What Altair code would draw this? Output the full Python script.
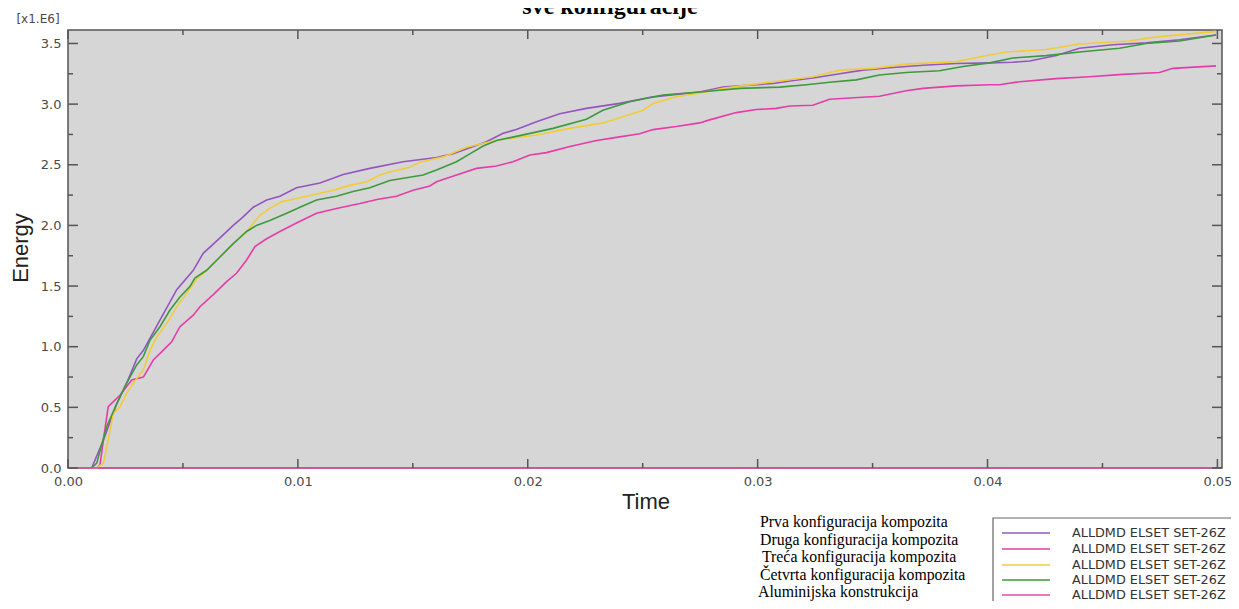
import altair as alt
import pandas as pd

# ---- data (energy in units of 1e6) ----
series_names = ["Prva konfiguracija kompozita", "Druga konfiguracija kompozita",
                "Treća konfiguracija kompozita", "Četvrta konfiguracija kompozita",
                "Aluminijska konstrukcija"]
legend_labels = ["ALLDMD ELSET SET-26Z"] * 5
colors = ["#9455c0", "#e53ca8", "#f0cd38", "#3d9a3d", "#e24eae"]

t_prva = [0, 0.00103, 0.00154, 0.0021, 0.0026, 0.00299, 0.00328, 0.004, 0.00473, 0.00545, 0.00588,
          0.00646, 0.00719, 0.00762, 0.00806, 0.00864, 0.00922, 0.00994, 0.01096, 0.01197, 0.01313,
          0.01458, 0.01603, 0.01675, 0.01748, 0.0182, 0.01893, 0.0195, 0.02038, 0.02139, 0.02255,
          0.024, 0.02545, 0.02748, 0.0285, 0.03067, 0.0314, 0.03255, 0.03357, 0.03458, 0.03574,
          0.03719, 0.03864, 0.04009, 0.0411, 0.04183, 0.04299, 0.044, 0.04545, 0.0469, 0.04835, 0.04994]
e_prva = [0, 0, 0.23, 0.52, 0.72, 0.90, 0.97, 1.22, 1.47, 1.63, 1.77,
          1.87, 2.00, 2.07, 2.15, 2.21, 2.24, 2.31, 2.35, 2.42, 2.47,
          2.525, 2.56, 2.59, 2.64, 2.69, 2.76, 2.79, 2.855, 2.92, 2.965,
          3.006, 3.06, 3.10, 3.14, 3.17, 3.19, 3.22, 3.25, 3.28, 3.30,
          3.32, 3.335, 3.34, 3.345, 3.355, 3.40, 3.46, 3.49, 3.505, 3.53, 3.57]

t_druga = [0, 0.00125, 0.00139, 0.00154, 0.00175, 0.00226, 0.00277, 0.00328, 0.00371, 0.00414,
           0.00451, 0.00487, 0.00545, 0.00574, 0.00632, 0.0069, 0.00733, 0.00777, 0.00813, 0.00864,
           0.00922, 0.00994, 0.01081, 0.01168, 0.0127, 0.01349, 0.01429, 0.01501, 0.01574, 0.01603,
           0.0169, 0.01777, 0.01864, 0.01936, 0.02009, 0.02081, 0.02183, 0.02299, 0.024, 0.02487,
           0.02545, 0.02646, 0.02748, 0.02791, 0.02907, 0.02994, 0.03081, 0.0314, 0.0324, 0.03313,
           0.034, 0.0353, 0.03646, 0.03719, 0.03864, 0.04009, 0.04052, 0.04139, 0.04299, 0.04443,
           0.04588, 0.04748, 0.04806, 0.04994]
e_druga = [0, 0, 0.025, 0.23, 0.505, 0.60, 0.725, 0.75, 0.89, 0.97,
           1.04, 1.165, 1.26, 1.33, 1.43, 1.536, 1.605, 1.715, 1.825, 1.89,
           1.95, 2.02, 2.10, 2.14, 2.18, 2.215, 2.24, 2.29, 2.325, 2.36,
           2.415, 2.47, 2.49, 2.525, 2.58, 2.60, 2.65, 2.70, 2.73, 2.755,
           2.79, 2.815, 2.845, 2.87, 2.93, 2.955, 2.965, 2.985, 2.99, 3.04,
           3.05, 3.065, 3.11, 3.13, 3.15, 3.16, 3.16, 3.185, 3.21, 3.225,
           3.245, 3.26, 3.295, 3.315]

t_treca = [0, 0.00125, 0.00154, 0.00175, 0.00197, 0.00226, 0.00255, 0.00284, 0.00328, 0.00357,
           0.00386, 0.00429, 0.00473, 0.00516, 0.0056, 0.00603, 0.00661, 0.00719, 0.00777, 0.00835,
           0.00878, 0.00929, 0.01038, 0.01154, 0.01226, 0.01299, 0.01357, 0.014, 0.01487, 0.0153,
           0.01632, 0.01733, 0.01835, 0.01893, 0.02038, 0.02183, 0.02327, 0.02414, 0.02501, 0.02545,
           0.02646, 0.02748, 0.02849, 0.03067, 0.0324, 0.03357, 0.03501, 0.03646, 0.03864, 0.04009,
           0.04081, 0.04255, 0.044, 0.04617, 0.04719, 0.04994]
e_treca = [0, 0, 0.04, 0.23, 0.45, 0.505, 0.615, 0.70, 0.81, 0.97,
           1.08, 1.19, 1.33, 1.44, 1.56, 1.63, 1.74, 1.85, 1.95, 2.085,
           2.14, 2.195, 2.24, 2.29, 2.33, 2.36, 2.415, 2.44, 2.48, 2.52,
           2.565, 2.645, 2.69, 2.71, 2.745, 2.80, 2.845, 2.895, 2.95, 3.005,
           3.06, 3.09, 3.13, 3.185, 3.225, 3.28, 3.295, 3.33, 3.35, 3.405,
           3.43, 3.45, 3.495, 3.52, 3.55, 3.60]

t_cetvrta = [0, 0.00103, 0.00125, 0.00168, 0.00212, 0.00255, 0.00299, 0.00328, 0.00357, 0.004,
             0.00443, 0.00487, 0.0053, 0.00552, 0.00603, 0.00661, 0.00719, 0.00777, 0.0082, 0.00878,
             0.00951, 0.01009, 0.01081, 0.01168, 0.0124, 0.01313, 0.014, 0.01545, 0.01603, 0.0169,
             0.01748, 0.01806, 0.01864, 0.01965, 0.0211, 0.02255, 0.02327, 0.02443, 0.02588, 0.02748,
             0.02922, 0.03096, 0.03212, 0.03313, 0.03429, 0.0353, 0.03646, 0.03791, 0.03893, 0.04009,
             0.0411, 0.04255, 0.044, 0.04574, 0.0469, 0.04835, 0.04994]
e_cetvrta = [0, 0, 0.04, 0.34, 0.53, 0.70, 0.85, 0.92, 1.055, 1.165,
             1.30, 1.41, 1.495, 1.565, 1.63, 1.74, 1.85, 1.95, 2.00, 2.04,
             2.10, 2.15, 2.21, 2.24, 2.28, 2.31, 2.37, 2.415, 2.457, 2.525,
             2.59, 2.655, 2.70, 2.74, 2.80, 2.875, 2.95, 3.02, 3.075, 3.10,
             3.13, 3.14, 3.16, 3.18, 3.20, 3.24, 3.26, 3.275, 3.31, 3.34,
             3.38, 3.40, 3.43, 3.46, 3.50, 3.52, 3.57]

t_alu = [0, 0.05]
e_alu = [0, 0]

x_major = [0.0, 0.01, 0.02, 0.03, 0.04, 0.05]
x_minor = [0.005, 0.015, 0.025, 0.035, 0.045]
y_major = [0.0, 0.5, 1.0, 1.5, 2.0, 2.5, 3.0, 3.5]
y_minor = [0.25, 0.75, 1.25, 1.75, 2.25, 2.75, 3.25]

# ---- build table ----
ts = [t_prva, t_druga, t_treca, t_cetvrta, t_alu]
es = [e_prva, e_druga, e_treca, e_cetvrta, e_alu]
rows = []
for name, tt, ee in zip(series_names, ts, es):
    for i, (a, b) in enumerate(zip(tt, ee)):
        rows.append({"series": name, "t": a, "E": b, "i": i})
df = pd.DataFrame(rows)

W, H = 1154, 438
XDOM = [0, 0.0502]
YDOM = [0, 3.611]
AXC = "#555555"
LBL = "#4a4a4a"

xs = alt.Scale(domain=XDOM, nice=False, zero=False)
ys = alt.Scale(domain=YDOM, nice=False, zero=False)
x_axis = alt.Axis(values=x_major, format=".2f", ticks=False, domain=False, grid=False, title=None,
                  labelFont="DejaVu Sans", labelFontSize=13, labelColor=LBL, labelPadding=7,
                  labelFlush=False)
y_axis = alt.Axis(values=y_major, format=".1f", ticks=False, domain=False, grid=False, title=None,
                  labelFont="DejaVu Sans", labelFontSize=13, labelColor=LBL, labelPadding=7,
                  labelFlush=False)

frame = alt.Chart(alt.Data(values=[{"a": 1}])).mark_rect(
    fill="#d6d6d6", stroke=AXC, strokeWidth=1.5
).encode(x=alt.value(0), x2=alt.value(W), y=alt.value(0), y2=alt.value(H))

lines = alt.Chart(df).mark_line(strokeWidth=1.6).encode(
    x=alt.X("t:Q", scale=xs, axis=x_axis),
    y=alt.Y("E:Q", scale=ys, axis=y_axis),
    color=alt.Color("series:N", scale=alt.Scale(domain=series_names, range=colors), legend=None),
    order="i:Q",
)

def xticks(vals, y0, y1):
    d = pd.DataFrame({"t": vals})
    return alt.Chart(d).mark_rule(color=AXC, strokeWidth=1.5).encode(
        x=alt.X("t:Q", scale=xs, axis=x_axis), y=alt.value(y0), y2=alt.value(y1))

def yticks(vals, x0, x1):
    d = pd.DataFrame({"E": vals})
    return alt.Chart(d).mark_rule(color=AXC, strokeWidth=1.5).encode(
        y=alt.Y("E:Q", scale=ys, axis=y_axis), x=alt.value(x0), x2=alt.value(x1))

ticks = [
    xticks(x_major, H, H - 9), xticks(x_major, 0, 9),
    xticks(x_minor, H, H - 5), xticks(x_minor, 0, 5),
    yticks(y_major, 0, 10), yticks(y_major, W, W - 10),
    yticks(y_minor, 0, 5), yticks(y_minor, W, W - 5),
]

def txt(s, x, y, **kw):
    return alt.Chart(alt.Data(values=[{"a": 1}])).mark_text(**kw).encode(
        x=alt.value(x), y=alt.value(y), text=alt.value(s))

texts = [
    txt("sve konfiguracije", 542, -16, font="Liberation Serif", fontSize=24, fontWeight="bold",
        color="#000000", align="center", baseline="alphabetic"),
    txt("[x1.E6]", -30, -11, font="DejaVu Sans", fontSize=12, color=LBL, align="center",
        baseline="middle"),
    txt("Energy", -47, 218, font="Liberation Sans", fontSize=22, color="#222222", align="center",
        baseline="middle", angle=270),
    txt("Time", 578, 472, font="Liberation Sans", fontSize=22, color="#222222", align="center",
        baseline="middle"),
]

left_x = [692, 692, 694, 692, 690]
left_y = [492, 509.5, 527, 544.5, 562]
for s, lx, ly in zip(series_names, left_x, left_y):
    texts.append(txt(s, lx, ly, font="Liberation Serif", fontSize=15.8, color="#000000",
                     align="left", baseline="middle"))

box = alt.Chart(alt.Data(values=[{"a": 1}])).mark_rect(
    fill="#ffffff", stroke="#666666", strokeWidth=1.2
).encode(x=alt.value(925), x2=alt.value(1260), y=alt.value(488), y2=alt.value(640))

sample_y = [503, 519, 535, 550, 565]
legend_layers = [box]
for c, lab, sy in zip(colors, legend_labels, sample_y):
    legend_layers.append(
        alt.Chart(alt.Data(values=[{"a": 1}])).mark_rule(color=c, strokeWidth=1.6).encode(
            x=alt.value(934), x2=alt.value(982), y=alt.value(sy)))
    legend_layers.append(txt(lab, 1004, sy, font="DejaVu Sans", fontSize=12.8, color="#333333",
                             align="left", baseline="middle"))

chart = alt.layer(frame, lines, *ticks, *texts, *legend_layers).properties(
    width=W, height=H,
    padding={"left": 60, "top": 22, "right": 9, "bottom": 133},
    autosize=alt.AutoSizeParams(type="none"),
    background="#ffffff",
).configure_view(strokeWidth=0)

chart.save("out.html", embed_options={"renderer": "svg", "actions": False})
